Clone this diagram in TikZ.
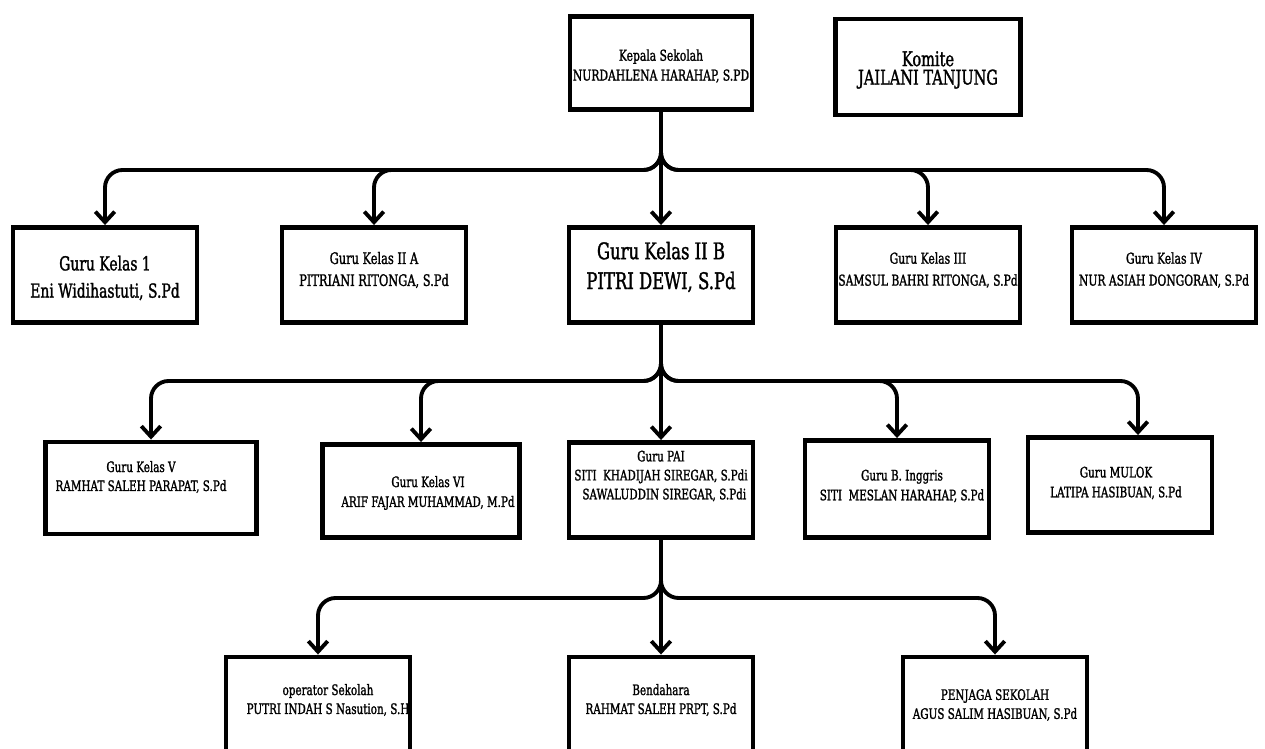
\documentclass[tikz,border=0pt]{standalone}
\usepackage{fontspec}
\setmainfont[FakeStretch=0.72,FakeBold=1.4]{DejaVu Serif}
\usetikzlibrary{arrows.meta,calc}

\begin{document}
\begin{tikzpicture}[x=0.02cm,y=-0.02cm,
    kotak/.style={draw,line width=2.8pt,minimum width=3.68cm,minimum height=1.9cm,inner sep=0pt},
    teks/.style={align=center,inner sep=0pt},
    kecil/.style={teks,font=\fontsize{8.5}{12.5}\selectfont},
    mini/.style={teks,font=\fontsize{8.2}{10.8}\selectfont},
    sedang/.style={teks,font=\fontsize{11}{15.5}\selectfont},
    besar/.style={teks,font=\fontsize{13}{17}\selectfont},
    panah/.style={line width=2.2pt,-{Straight Barb[length=6pt,width=11pt]},rounded corners=10pt}]
            \useasboundingbox (0,0) rectangle (1265,749);
            % baris atas
            \node[kotak,minimum width=3.64cm,minimum height=1.86cm] (kep) at (661,63) {};
            \node[kecil,font=\fontsize{8.5}{11.3}\selectfont] (kepT) at (661,66) {Kepala Sekolah\\NURDAHLENA HARAHAP, S.PD};
            \node[kotak,minimum width=3.7cm,minimum height=1.92cm] (kom) at (928,67) {};
            \node[teks,font=\fontsize{11.5}{10.5}\selectfont] (komT) at (928,70) {Komite\\JAILANI TANJUNG};
            % guru kelas 1 - 4
            \node[kotak] (k1) at (105,275) {};  \node[sedang] (k1T) at (105,278) {Guru Kelas 1\\Eni Widihastuti, S.Pd};
            \node[kotak] (k2a) at (374,275) {}; \node[kecil,font=\fontsize{9}{12.5}\selectfont] (k2aT) at (374,270) {Guru Kelas II A\\PITRIANI RITONGA, S.Pd};
            \node[kotak] (k2b) at (661,275) {}; \node[besar] (k2bT) at (661,267) {Guru Kelas II B\\PITRI DEWI, S.Pd};
            \node[kotak] (k3) at (928,275) {};  \node[kecil] (k3T) at (928,270) {Guru Kelas III\\SAMSUL BAHRI RITONGA, S.Pd};
            \node[kotak] (k4) at (1164,275) {}; \node[kecil] (k4T) at (1164,270) {Guru Kelas IV\\NUR ASIAH DONGORAN, S.Pd};
            % guru kelas 5, 6 dan mapel
            \node[kotak,minimum width=4.22cm,minimum height=1.84cm] (k5) at (151,488) {};
            \node[mini] (k5T) at (141,477) {Guru Kelas V\\RAMHAT SALEH PARAPAT, S.Pd};
            \node[kotak,minimum width=3.94cm,minimum height=1.86cm] (k6) at (421,491) {};
            \node[mini,font=\fontsize{8.2}{11.3}\selectfont] (k6T) at (428,493) {Guru Kelas VI\\ARIF FAJAR MUHAMMAD, M.Pd};
            \node[kotak] (pai) at (661,490) {};
            \node[mini] (paiT) at (661,476) {Guru PAI\\SITI\ \ KHADIJAH SIREGAR, S.Pdi\\\ \ SAWALUDDIN SIREGAR, S.Pdi};
            \node[kotak,minimum height=1.94cm] (bi) at (897,489) {};
            \node[mini,font=\fontsize{8.2}{11.3}\selectfont] (biT) at (902,486) {Guru B. Inggris\\SITI\ \ MESLAN HARAHAP, S.Pd};
            \node[kotak] (mlk) at (1120,485) {};
            \node[mini,font=\fontsize{8.2}{11.3}\selectfont] (mlkT) at (1116,483) {Guru MULOK\\LATIPA HASIBUAN, S.Pd};
            % staf
            \node[kotak,minimum height=2.4cm] (op) at (318,717) {};
            \node[mini] (opT) at (328,700) {operator Sekolah\\PUTRI INDAH S Nasution, S.H};
            \node[kotak,minimum height=2.4cm] (bdh) at (661,717) {};
            \node[mini] (bdhT) at (661,700) {Bendahara\\RAHMAT SALEH PRPT, S.Pd};
            \node[kotak,minimum height=2.4cm] (pjg) at (995,717) {};
            \node[mini] (pjgT) at (995,705) {PENJAGA SEKOLAH\\AGUS SALIM HASIBUAN, S.Pd};
            % garis
            \coordinate (bus1) at (661,170);
            \coordinate (bus2) at (661,381);
            \coordinate (bus3) at (661,598);
            \coordinate (mlkA) at ($(mlk.north)+(18,0)$);
            \draw[panah] (kep.south) -- (k2b.north);
            \foreach \n in {k1,k2a,k3,k4}
                \draw[panah] (kep.south) |- (\n.north |- bus1) -- (\n.north);
            \draw[panah] (k2b.south) -- (pai.north);
            \foreach \n in {k5.north,k6.north,bi.north,mlkA}
                \draw[panah] (k2b.south) |- (\n |- bus2) -- (\n);
            \draw[panah] (pai.south) -- (bdh.north);
            \foreach \n in {op,pjg}
                \draw[panah] (pai.south) |- (\n.north |- bus3) -- (\n.north);
        \end{tikzpicture}
\end{document}
